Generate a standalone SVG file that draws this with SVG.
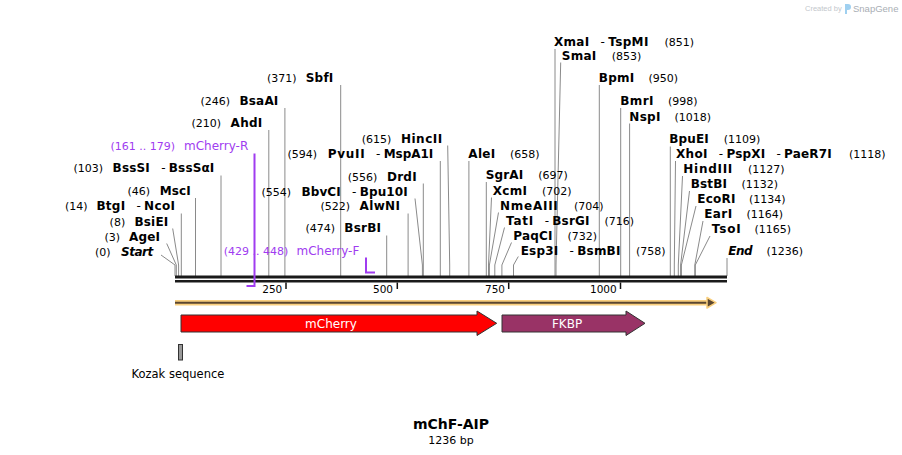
<svg xmlns="http://www.w3.org/2000/svg" width="902" height="455" viewBox="0 0 902 455">
<style>
text{font-family:"DejaVu Sans",Verdana,sans-serif;fill:#000}
.b{font-size:12px;font-weight:bold}
.bi{font-size:12px;font-weight:bold;font-style:italic}
.n{font-size:11px}
.h{font-size:12px;text-anchor:middle}
.e{text-anchor:end}
.p{font-size:12px;fill:#a03cf0}
.pn{font-size:11px;fill:#a03cf0}
.ln{stroke:#8a8a8a;stroke-width:1;fill:none}
.pr{stroke:#a03cf0;stroke-width:2;fill:none}
.tk{stroke:#111;stroke-width:1.5}
.tl{font-size:10.5px;text-anchor:end}
.ft{font-size:12px;fill:#fff;text-anchor:middle}
</style>
<rect width="902" height="455" fill="#fff"/>
<g id="watermark">
<text x="805" y="11" style="font-family:'Liberation Sans',sans-serif;font-size:7.5px;fill:#c3c7cc">Created by</text>
<path d="M845 4 h3 a3 3 0 0 1 0 6 h-1 v4 h-2 z" fill="#9fd0f0"/>
<text x="853" y="11.5" style="font-family:'Liberation Sans',sans-serif;font-size:9.5px;fill:#a9aeb4">SnapGene</text>
</g>
<g id="connectors">
<polyline class="ln" points="161,255 175,265 175,276"/>
<polyline class="ln" points="166.7,243.5 176.3,265 176.3,276"/>
<polyline class="ln" points="172.7,228.5 178.6,265 178.6,276"/>
<line class="ln" x1="181.3" y1="213.5" x2="181.3" y2="276"/>
<line class="ln" x1="195.5" y1="198" x2="195.5" y2="276"/>
<line class="ln" x1="221" y1="175.5" x2="221" y2="276"/>
<line class="ln" x1="268.8" y1="130" x2="268.8" y2="276"/>
<line class="ln" x1="284.9" y1="108" x2="284.9" y2="276"/>
<line class="ln" x1="340.7" y1="85" x2="340.7" y2="276"/>
<line class="ln" x1="386.7" y1="235.5" x2="386.7" y2="276"/>
<line class="ln" x1="408.1" y1="213.5" x2="408.1" y2="276"/>
<polyline class="ln" points="415,198.5 422.4,265 422.4,276"/>
<line class="ln" x1="423.3" y1="183.5" x2="423.3" y2="276"/>
<line class="ln" x1="440.3" y1="161" x2="440.3" y2="276"/>
<polyline class="ln" points="447.7,145.5 449.7,265 449.7,276"/>
<line class="ln" x1="468.9" y1="161" x2="468.9" y2="276"/>
<line class="ln" x1="486.3" y1="182" x2="486.3" y2="276"/>
<polyline class="ln" points="491.5,197.5 488.5,265 488.5,276"/>
<polyline class="ln" points="498.5,212.5 489.4,265 489.4,276"/>
<polyline class="ln" points="504.5,227.5 494.8,265 494.8,276"/>
<polyline class="ln" points="511.5,242.5 501.9,265 501.9,276"/>
<polyline class="ln" points="518.3,256.5 513.5,265 513.5,276"/>
<line class="ln" x1="555" y1="49" x2="555" y2="276"/>
<polyline class="ln" points="560.7,62.5 556,265 556,276"/>
<line class="ln" x1="599.3" y1="85" x2="599.3" y2="276"/>
<line class="ln" x1="620.7" y1="108" x2="620.7" y2="276"/>
<line class="ln" x1="629.6" y1="123.5" x2="629.6" y2="276"/>
<line class="ln" x1="670.3" y1="146.5" x2="670.3" y2="276"/>
<polyline class="ln" points="675.5,161 674.3,265 674.3,276"/>
<polyline class="ln" points="682.5,176 678.3,265 678.3,276"/>
<polyline class="ln" points="689.5,191 680.6,265 680.6,276"/>
<polyline class="ln" points="696,206 681.4,265 681.4,276"/>
<polyline class="ln" points="703,221 694.8,265 694.8,276"/>
<polyline class="ln" points="710,236 695.3,265 695.3,276"/>
<line class="ln" x1="727" y1="258" x2="727" y2="276"/>
</g>
<g id="backbone">
<rect x="175" y="275.5" width="552" height="3" fill="#1a1a1a"/>
<rect x="175" y="280" width="552" height="2.5" fill="#1a1a1a"/>
<line class="tk" x1="286" y1="282.5" x2="286" y2="289"/>
<line class="tk" x1="397.3" y1="282.5" x2="397.3" y2="289"/>
<line class="tk" x1="508.7" y1="282.5" x2="508.7" y2="289"/>
<line class="tk" x1="620.5" y1="282.5" x2="620.5" y2="289"/>
<text class="tl" x="282.3" y="292.7">250</text>
<text class="tl" x="393" y="292.7">500</text>
<text class="tl" x="505" y="292.7">750</text>
<text class="tl" x="616.7" y="292.7">1000</text>
</g>
<g id="primer-mCherry-R">
<polyline class="pr" points="254.5,153.5 254.5,286 246.5,286"/>
<text class="pn e" x="175" y="150">(161 .. 179)</text>
<text class="p e" x="248.3" y="150">mCherry-R</text>
</g>
<g id="primer-mCherry-F">
<polyline class="pr" points="366,257.5 366,272.5 375,272.5"/>
<text class="pn e" x="288.3" y="255">(429 .. 448)</text>
<text class="p e" x="359.3" y="255">mCherry-F</text>
</g>
<g id="site-Start"><text class="n e" x="110.5" y="256">(0)</text><text class="bi" x="121" y="256" textLength="32.3">Start</text></g>
<g id="site-AgeI"><text class="n e" x="120" y="241">(3)</text><text class="b" x="128.9" y="241" textLength="31.1">AgeI</text></g>
<g id="site-BsiEI"><text class="n e" x="125.2" y="225.7">(8)</text><text class="b" x="134.4" y="225.7" textLength="33.9">BsiEI</text></g>
<g id="site-BtgI"><text class="n e" x="87.5" y="210">(14)</text><text class="b" x="96.5" y="210" textLength="28.6">BtgI</text><text class="h" x="138.6" y="210">-</text><text class="b" x="144.1" y="210" textLength="30.9">NcoI</text></g>
<g id="site-MscI"><text class="n e" x="150" y="195">(46)</text><text class="b" x="159.7" y="195" textLength="31">MscI</text></g>
<g id="site-BssSI"><text class="n e" x="103" y="172">(103)</text><text class="b" x="112.6" y="172" textLength="37.2">BssSI</text><text class="h" x="163.3" y="172">-</text><text class="b" x="168.8" y="172" textLength="45.5">BssSαI</text></g>
<g id="site-AhdI"><text class="n e" x="221" y="126.7">(210)</text><text class="b" x="230.6" y="126.7" textLength="31.7">AhdI</text></g>
<g id="site-BsaAI"><text class="n e" x="230" y="105">(246)</text><text class="b" x="239.5" y="105" textLength="38.8">BsaAI</text></g>
<g id="site-SbfI"><text class="n e" x="296.5" y="81.7">(371)</text><text class="b" x="305.7" y="81.7" textLength="27.6">SbfI</text></g>
<g id="site-BsrBI"><text class="n e" x="335" y="232.3">(474)</text><text class="b" x="344.3" y="232.3" textLength="36.7">BsrBI</text></g>
<g id="site-AlwNI"><text class="n e" x="350" y="210">(522)</text><text class="b" x="359.5" y="210" textLength="40.5">AlwNI</text></g>
<g id="site-BbvCI"><text class="n e" x="291" y="195.7">(554)</text><text class="b" x="301.5" y="195.7" textLength="39.2">BbvCI</text><text class="h" x="354.2" y="195.7">-</text><text class="b" x="359.7" y="195.7" textLength="48">Bpu10I</text></g>
<g id="site-DrdI"><text class="n e" x="377.4" y="180.7">(556)</text><text class="b" x="386.9" y="180.7" textLength="29.8">DrdI</text></g>
<g id="site-PvuII"><text class="n e" x="317" y="157.7">(594)</text><text class="b" x="327.7" y="157.7" textLength="37">PvuII</text><text class="h" x="378.2" y="157.7">-</text><text class="b" x="383.7" y="157.7" textLength="49.6">MspA1I</text></g>
<g id="site-HincII"><text class="n e" x="391.4" y="142.7">(615)</text><text class="b" x="400.9" y="142.7" textLength="41.4">HincII</text></g>
<g id="site-AleI"><text class="b" x="468.3" y="157.7" textLength="27">AleI</text><text class="n" x="510" y="157.7">(658)</text></g>
<g id="site-SgrAI"><text class="b" x="485.7" y="179.3" textLength="37.4">SgrAI</text><text class="n" x="538.2" y="179.3">(697)</text></g>
<g id="site-XcmI"><text class="b" x="492.7" y="195" textLength="34.3">XcmI</text><text class="n" x="542" y="195">(702)</text></g>
<g id="site-NmeAIII"><text class="b" x="500" y="210" textLength="57.8">NmeAIII</text><text class="n" x="574" y="210">(704)</text></g>
<g id="site-TatI"><text class="b" x="506" y="225" textLength="27.3">TatI</text><text class="h" x="546.8" y="225">-</text><text class="b" x="552.3" y="225" textLength="37.2">BsrGI</text><text class="n" x="604.5" y="225">(716)</text></g>
<g id="site-PaqCI"><text class="b" x="513.3" y="240" textLength="39.1">PaqCI</text><text class="n" x="567.5" y="240">(732)</text></g>
<g id="site-Esp3I"><text class="b" x="520.7" y="255" textLength="37.5">Esp3I</text><text class="h" x="571.7" y="255">-</text><text class="b" x="577.2" y="255" textLength="43.2">BsmBI</text><text class="n" x="636" y="255">(758)</text></g>
<g id="site-XmaI"><text class="b" x="554" y="46" textLength="35.2">XmaI</text><text class="h" x="602.7" y="46">-</text><text class="b" x="608.2" y="46" textLength="40.2">TspMI</text><text class="n" x="664.5" y="46">(851)</text></g>
<g id="site-SmaI"><text class="b" x="561.7" y="60" textLength="34.6">SmaI</text><text class="n" x="611.7" y="60">(853)</text></g>
<g id="site-BpmI"><text class="b" x="598.7" y="81.7" textLength="35.6">BpmI</text><text class="n" x="648.5" y="81.7">(950)</text></g>
<g id="site-BmrI"><text class="b" x="620.3" y="105" textLength="33.2">BmrI</text><text class="n" x="668" y="105">(998)</text></g>
<g id="site-NspI"><text class="b" x="629.3" y="120.7" textLength="31.1">NspI</text><text class="n" x="674.5" y="120.7">(1018)</text></g>
<g id="site-BpuEI"><text class="b" x="669.3" y="143.3" textLength="39.5">BpuEI</text><text class="n" x="723.8" y="143.3">(1109)</text></g>
<g id="site-XhoI"><text class="b" x="676" y="158.3" textLength="31.4">XhoI</text><text class="h" x="720.9" y="158.3">-</text><text class="b" x="726.4" y="158.3" textLength="38.7">PspXI</text><text class="h" x="778.6" y="158.3">-</text><text class="b" x="784.1" y="158.3" textLength="47.6">PaeR7I</text><text class="n" x="849" y="158.3">(1118)</text></g>
<g id="site-HindIII"><text class="b" x="683.3" y="173.3" textLength="49">HindIII</text><text class="n" x="748" y="173.3">(1127)</text></g>
<g id="site-BstBI"><text class="b" x="690.7" y="188.3" textLength="36.2">BstBI</text><text class="n" x="741.5" y="188.3">(1132)</text></g>
<g id="site-EcoRI"><text class="b" x="697.3" y="203.3" textLength="38.1">EcoRI</text><text class="n" x="749" y="203.3">(1134)</text></g>
<g id="site-EarI"><text class="b" x="704.3" y="218.3" textLength="27.8">EarI</text><text class="n" x="746.5" y="218.3">(1164)</text></g>
<g id="site-TsoI"><text class="b" x="711.7" y="233.3" textLength="29.1">TsoI</text><text class="n" x="754.5" y="233.3">(1165)</text></g>
<g id="site-End"><text class="bi" x="728.3" y="255" textLength="24.3">End</text><text class="n" x="766.5" y="255">(1236)</text></g>
<g id="feature-orf">
<rect x="175" y="300" width="536" height="5.5" fill="#f9cf7e"/>
<line x1="175" y1="302.7" x2="711" y2="302.7" stroke="#5a4630" stroke-width="2"/>
<polygon points="707,297.5 716,302.7 707,308" fill="#5a4630" stroke="#f9cf7e" stroke-width="1.5" stroke-linejoin="round"/>
</g>
<g id="feature-mCherry">
<polygon points="181,315 477,315 477,311 496.7,323.3 477,335.5 477,332 181,332" fill="#ff0000" stroke="#333" stroke-width="1"/>
<text class="ft" x="331" y="327.8">mCherry</text>
</g>
<g id="feature-FKBP">
<polygon points="502,315 626,315 626,311 645,323.3 626,335.5 626,332 502,332" fill="#993366" stroke="#333" stroke-width="1"/>
<text class="ft" x="567" y="327.8">FKBP</text>
</g>
<g id="feature-Kozak">
<rect x="178.5" y="344.5" width="4" height="15.5" fill="#999" stroke="#333" stroke-width="1"/>
<text x="131.5" y="378" style="font-size:11.5px">Kozak sequence</text>
</g>
<g id="title">
<text x="451" y="429.3" style="font-size:14px;font-weight:bold;text-anchor:middle">mChF-AIP</text>
<text x="451" y="444.3" style="font-size:11px;text-anchor:middle">1236 bp</text>
</g>
</svg>
